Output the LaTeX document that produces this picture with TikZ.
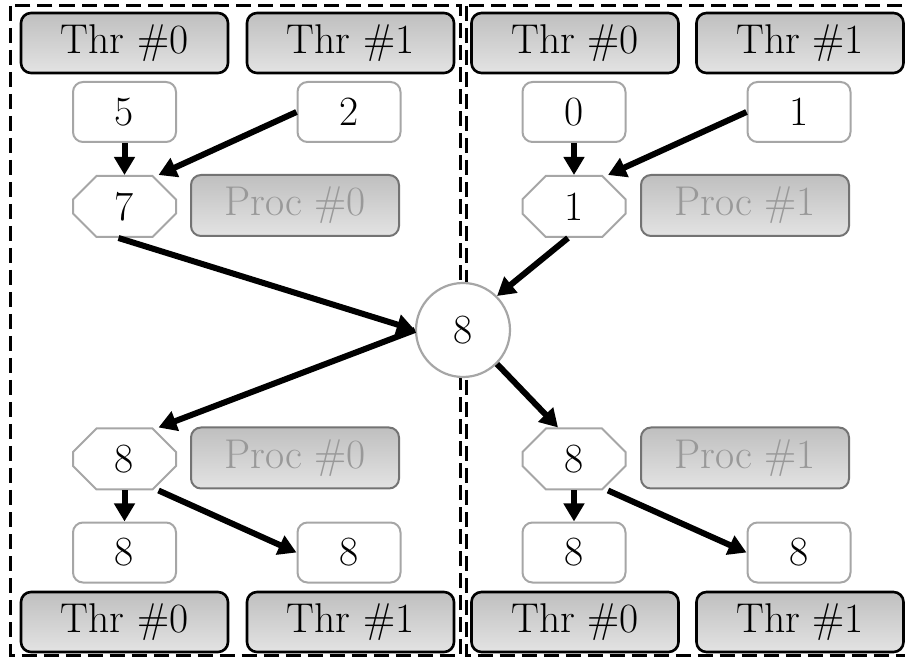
\documentclass[tikz,border=0pt]{standalone}
\usetikzlibrary{arrows.meta,shapes.misc}
\begin{document}
\begin{tikzpicture}[x=0.5pt,y=-0.5pt,
  font=\fontsize{20.8}{24}\selectfont,
  thr/.style={draw=black, line width=1.3pt, rounded corners=5pt, top color=gray!50, bottom color=gray!22, minimum width=103.5pt, minimum height=30pt, inner sep=0pt},
  proc/.style={draw=black!55, line width=1pt, rounded corners=5pt, top color=gray!50, bottom color=gray!22, text=black!40, minimum width=104pt, minimum height=30.5pt, inner sep=0pt},
  val/.style={draw=black!35, line width=1pt, rounded corners=5pt, fill=white, minimum width=51.5pt, minimum height=30pt, inner sep=0pt},
  oct/.style={chamfered rectangle, chamfered rectangle sep=7pt, draw=black!35, line width=1pt, fill=white, minimum width=51.5pt, minimum height=30.5pt, inner sep=0pt},
  cir/.style={circle, draw=black!35, line width=1.1pt, fill=white, minimum size=47pt, inner sep=0pt},
  arr/.style={line width=3pt, -{Triangle[length=9pt,width=10pt]}},
  frame/.style={line width=1.5pt, dash pattern=on 7.5pt off 3.5pt}]
\useasboundingbox (0,0) rectangle (905,657);
\clip (0,0) rectangle (905,657);
% frames
\draw[frame] (10.5,6) rectangle (460.5,655);
\draw[frame] (466.5,6) rectangle (915,655);
% left process
\node[thr] (tA0) at (124.5,43) {Thr \#0};
\node[thr] (tA1) at (350.5,43) {Thr \#1};
\node[val] (v5) at (124.5,112) {5};
\node[val] (v2) at (349,112) {2};
\node[oct] (o7) at (124.5,206.5) {7};
\node[proc] (p0) at (295,205.5) {Proc \#0};
\node[oct] (oL) at (124.5,459) {8};
\node[proc] (pL) at (295,458) {Proc \#0};
\node[val] (bL0) at (124.5,552.5) {8};
\node[val] (bL1) at (349,552.5) {8};
\node[thr] (tL0) at (124.5,622) {Thr \#0};
\node[thr] (tL1) at (350.5,622) {Thr \#1};
% right process
\node[thr] (tB0) at (575,43) {Thr \#0};
\node[thr] (tB1) at (800,43) {Thr \#1};
\node[val] (v0) at (574,112) {0};
\node[val] (v1) at (799,112) {1};
\node[oct] (o1) at (574,206.5) {1};
\node[proc] (p1) at (745,205.5) {Proc \#1};
\node[oct] (oR) at (574,459) {8};
\node[proc] (pR) at (745,458) {Proc \#1};
\node[val] (bR0) at (574,552.5) {8};
\node[val] (bR1) at (799,552.5) {8};
\node[thr] (tR0) at (575,622) {Thr \#0};
\node[thr] (tR1) at (800,622) {Thr \#1};
% global
\node[cir] (c) at (463,330) {8};
% arrows
\draw[arr] (v5.south) -- (o7.north);
\draw[arr] (v2.west) -- ([xshift=17pt]o7.north);
\draw[arr] (v0.south) -- (o1.north);
\draw[arr] (v1.west) -- ([xshift=17pt]o1.north);
\draw[arr] ([xshift=-3pt]o7.south) -- (c.west);
\draw[arr] ([xshift=-3pt]o1.south) -- (c.north east);
\draw[arr] (c.west) -- ([xshift=17pt]oL.north);
\draw[arr] (c.south east) -- ([xshift=-8pt]oR.north);
\draw[arr] (oL.south) -- (bL0.north);
\draw[arr] ([xshift=17pt]oL.south) -- (bL1.west);
\draw[arr] (oR.south) -- (bR0.north);
\draw[arr] ([xshift=17pt]oR.south) -- (bR1.west);
\end{tikzpicture}
\end{document}
